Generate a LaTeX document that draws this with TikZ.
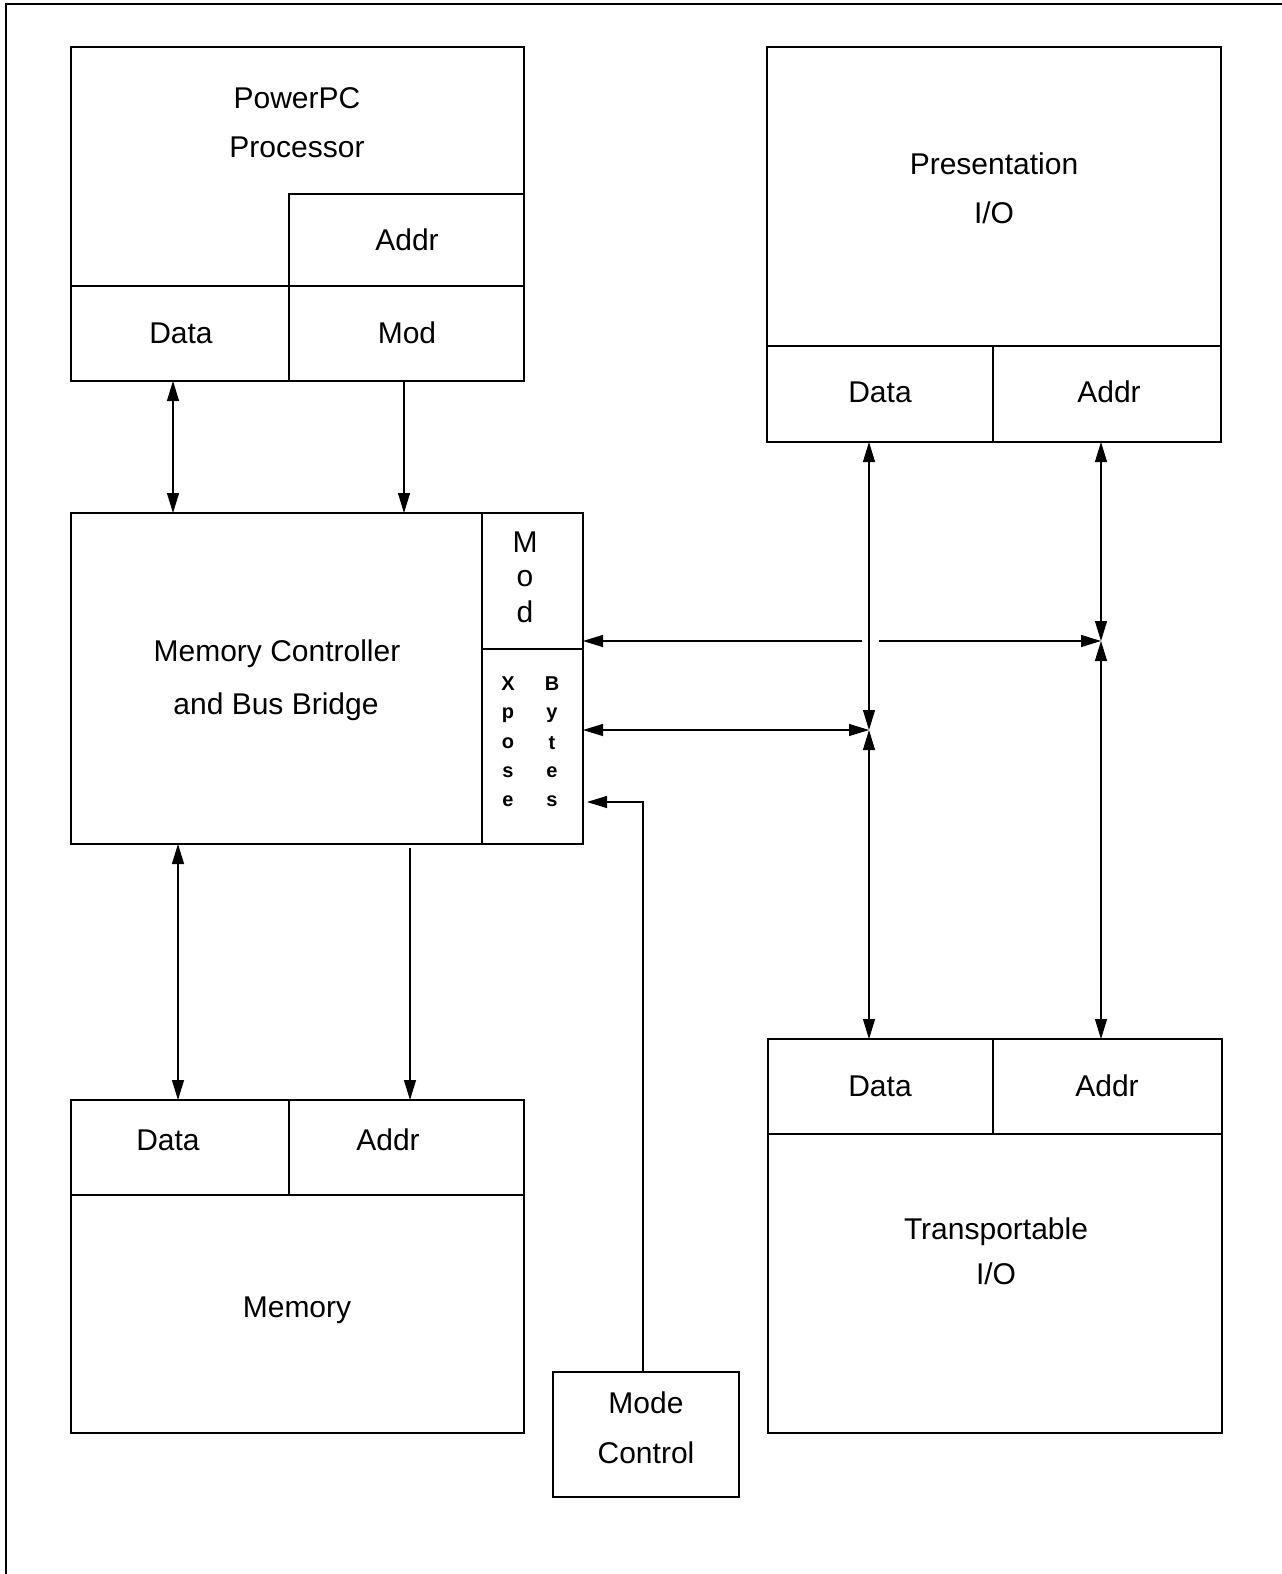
\documentclass[tikz,border=0pt]{standalone}
\usepackage{fontspec}
\setmainfont{Liberation Sans}
\usetikzlibrary{arrows.meta}
\begin{document}
\begin{tikzpicture}[x=1pt,y=-1pt,
  box/.style={draw,line width=1.6pt,inner sep=0pt,outer sep=0pt},
  lbl/.style={inner sep=0pt,font=\fontsize{30}{36}\selectfont,text height=21.5pt,text depth=0pt},
  glyph/.style={inner sep=0pt,font=\fontsize{30}{36}\selectfont},
  smallglyph/.style={inner sep=0pt,font=\fontsize{20}{24}\selectfont\bfseries},
  conn/.style={line width=1.2pt},
  >={Triangle[length=20pt,width=12pt]}]
\useasboundingbox (0,0) rectangle (1282,1574);
% frame
\draw[line width=1.5pt] (6,1574) -- (6,4) -- (1282,4);

% PowerPC processor
\node[box,minimum width=453pt,minimum height=334pt] (ppc) at (297.5,214) {};
\node[box,minimum width=235pt,minimum height=92pt] (ppcAddr) at (406.5,240) {};
\node[box,minimum width=218pt,minimum height=95pt] (ppcData) at (180,333.5) {};
\node[box,minimum width=235pt,minimum height=95pt] (ppcMod) at (406.5,333.5) {};
\node[lbl] (tPPC1) at (297,98) {PowerPC};
\node[lbl] (tPPC2) at (297,147) {Processor};
\node[lbl] (tPPCa) at (407,240) {Addr};
\node[lbl] (tPPCd) at (181,333) {Data};
\node[lbl] (tPPCm) at (407,333) {Mod};

% Presentation I/O
\node[box,minimum width=454pt,minimum height=395pt] (pres) at (994,244.5) {};
\node[box,minimum width=226pt,minimum height=96pt] (presData) at (880,394) {};
\node[box,minimum width=228pt,minimum height=96pt] (presAddr) at (1107,394) {};
\node[lbl] (tPres1) at (994,164) {Presentation};
\node[lbl] (tPres2) at (994,213) {I/O};
\node[lbl] (tPresd) at (880,392) {Data};
\node[lbl] (tPresa) at (1109,392) {Addr};

% Memory controller
\node[box,minimum width=512pt,minimum height=331pt] (mc) at (327,678.5) {};
\node[box,minimum width=101pt,minimum height=136pt] (mcMod) at (532.5,581) {};
\node[box,minimum width=101pt,minimum height=195pt] (mcXB) at (532.5,746.5) {};
\node[lbl] (tMC1) at (277,651) {Memory Controller};
\node[lbl] (tMC2) at (276,704) {and Bus Bridge};
\foreach \ch/\yy [count=\i] in {M/542,o/579,d/612}
  \node[glyph] (mod\i) at (525,\yy) {\ch};
\foreach \ch/\yy [count=\i] in {X/684,p/715,o/743,s/772,e/801}
  \node[smallglyph] (xp\i) at (508,\yy) {\ch};
\foreach \ch/\yy [count=\i] in {B/684,y/715,t/743,e/772,s/801}
  \node[smallglyph] (by\i) at (552,\yy) {\ch};

% Memory
\node[box,minimum width=453pt,minimum height=333pt] (mem) at (297.5,1266.5) {};
\node[box,minimum width=218pt,minimum height=95pt] (memData) at (180,1147.5) {};
\node[box,minimum width=235pt,minimum height=95pt] (memAddr) at (406.5,1147.5) {};
\node[lbl] (tMemd) at (168,1140) {Data};
\node[lbl] (tMema) at (388,1140) {Addr};
\node[lbl] (tMem) at (297,1307) {Memory};

% Transportable I/O
\node[box,minimum width=454pt,minimum height=394pt] (tr) at (995,1236) {};
\node[box,minimum width=225pt,minimum height=95pt] (trData) at (880.5,1086.5) {};
\node[box,minimum width=229pt,minimum height=95pt] (trAddr) at (1107.5,1086.5) {};
\node[lbl] (tTrd) at (880,1086) {Data};
\node[lbl] (tTra) at (1107,1086) {Addr};
\node[lbl] (tTr1) at (996,1229) {Transportable};
\node[lbl] (tTr2) at (996,1274) {I/O};

% Mode control
\node[box,minimum width=186pt,minimum height=125pt] (mode) at (646,1434.5) {};
\node[lbl] (tMode1) at (646,1403) {Mode};
\node[lbl] (tMode2) at (646,1453) {Control};

% helper coordinates
\coordinate (cA) at (173,0);
\coordinate (cB) at (404,0);
\coordinate (cC) at (178,0);
\coordinate (cD) at (410,0);
\coordinate (cE) at (869,0);
\coordinate (cF) at (1101,0);
\coordinate (jD) at (869,730);
\coordinate (jA) at (1101,641);
\coordinate (g1) at (862,641);
\coordinate (g2) at (879,641);
\coordinate (mcorner) at (643,802);
\coordinate (mtip) at (587,802);

% connectors
\draw[conn,<->] (ppcData.south -| cA) -- (mc.north -| cA);
\draw[conn,->] (ppcMod.south -| cB) -- (mc.north -| cB);
\draw[conn,<->] (mc.south -| cC) -- (memData.north -| cC);
\draw[conn,->] ([yshift=-4pt]mc.south -| cD) -- (memAddr.north -| cD);
\draw[conn,<->] (presData.south -| cE) -- (jD);
\draw[conn,<->] (jD) -- (trData.north -| cE);
\draw[conn,<->] (presAddr.south -| cF) -- (jA);
\draw[conn,<->] (jA) -- (trAddr.north -| cF);
\draw[conn,<->] (mcXB.east |- jD) -- (jD);
\draw[conn,->] (g1) -- (mcMod.east |- jA);
\draw[conn,->] (g2) -- (jA);
\draw[conn,->] (mode.north -| mcorner) -- (mcorner) -- (mtip);
\end{tikzpicture}
\end{document}
